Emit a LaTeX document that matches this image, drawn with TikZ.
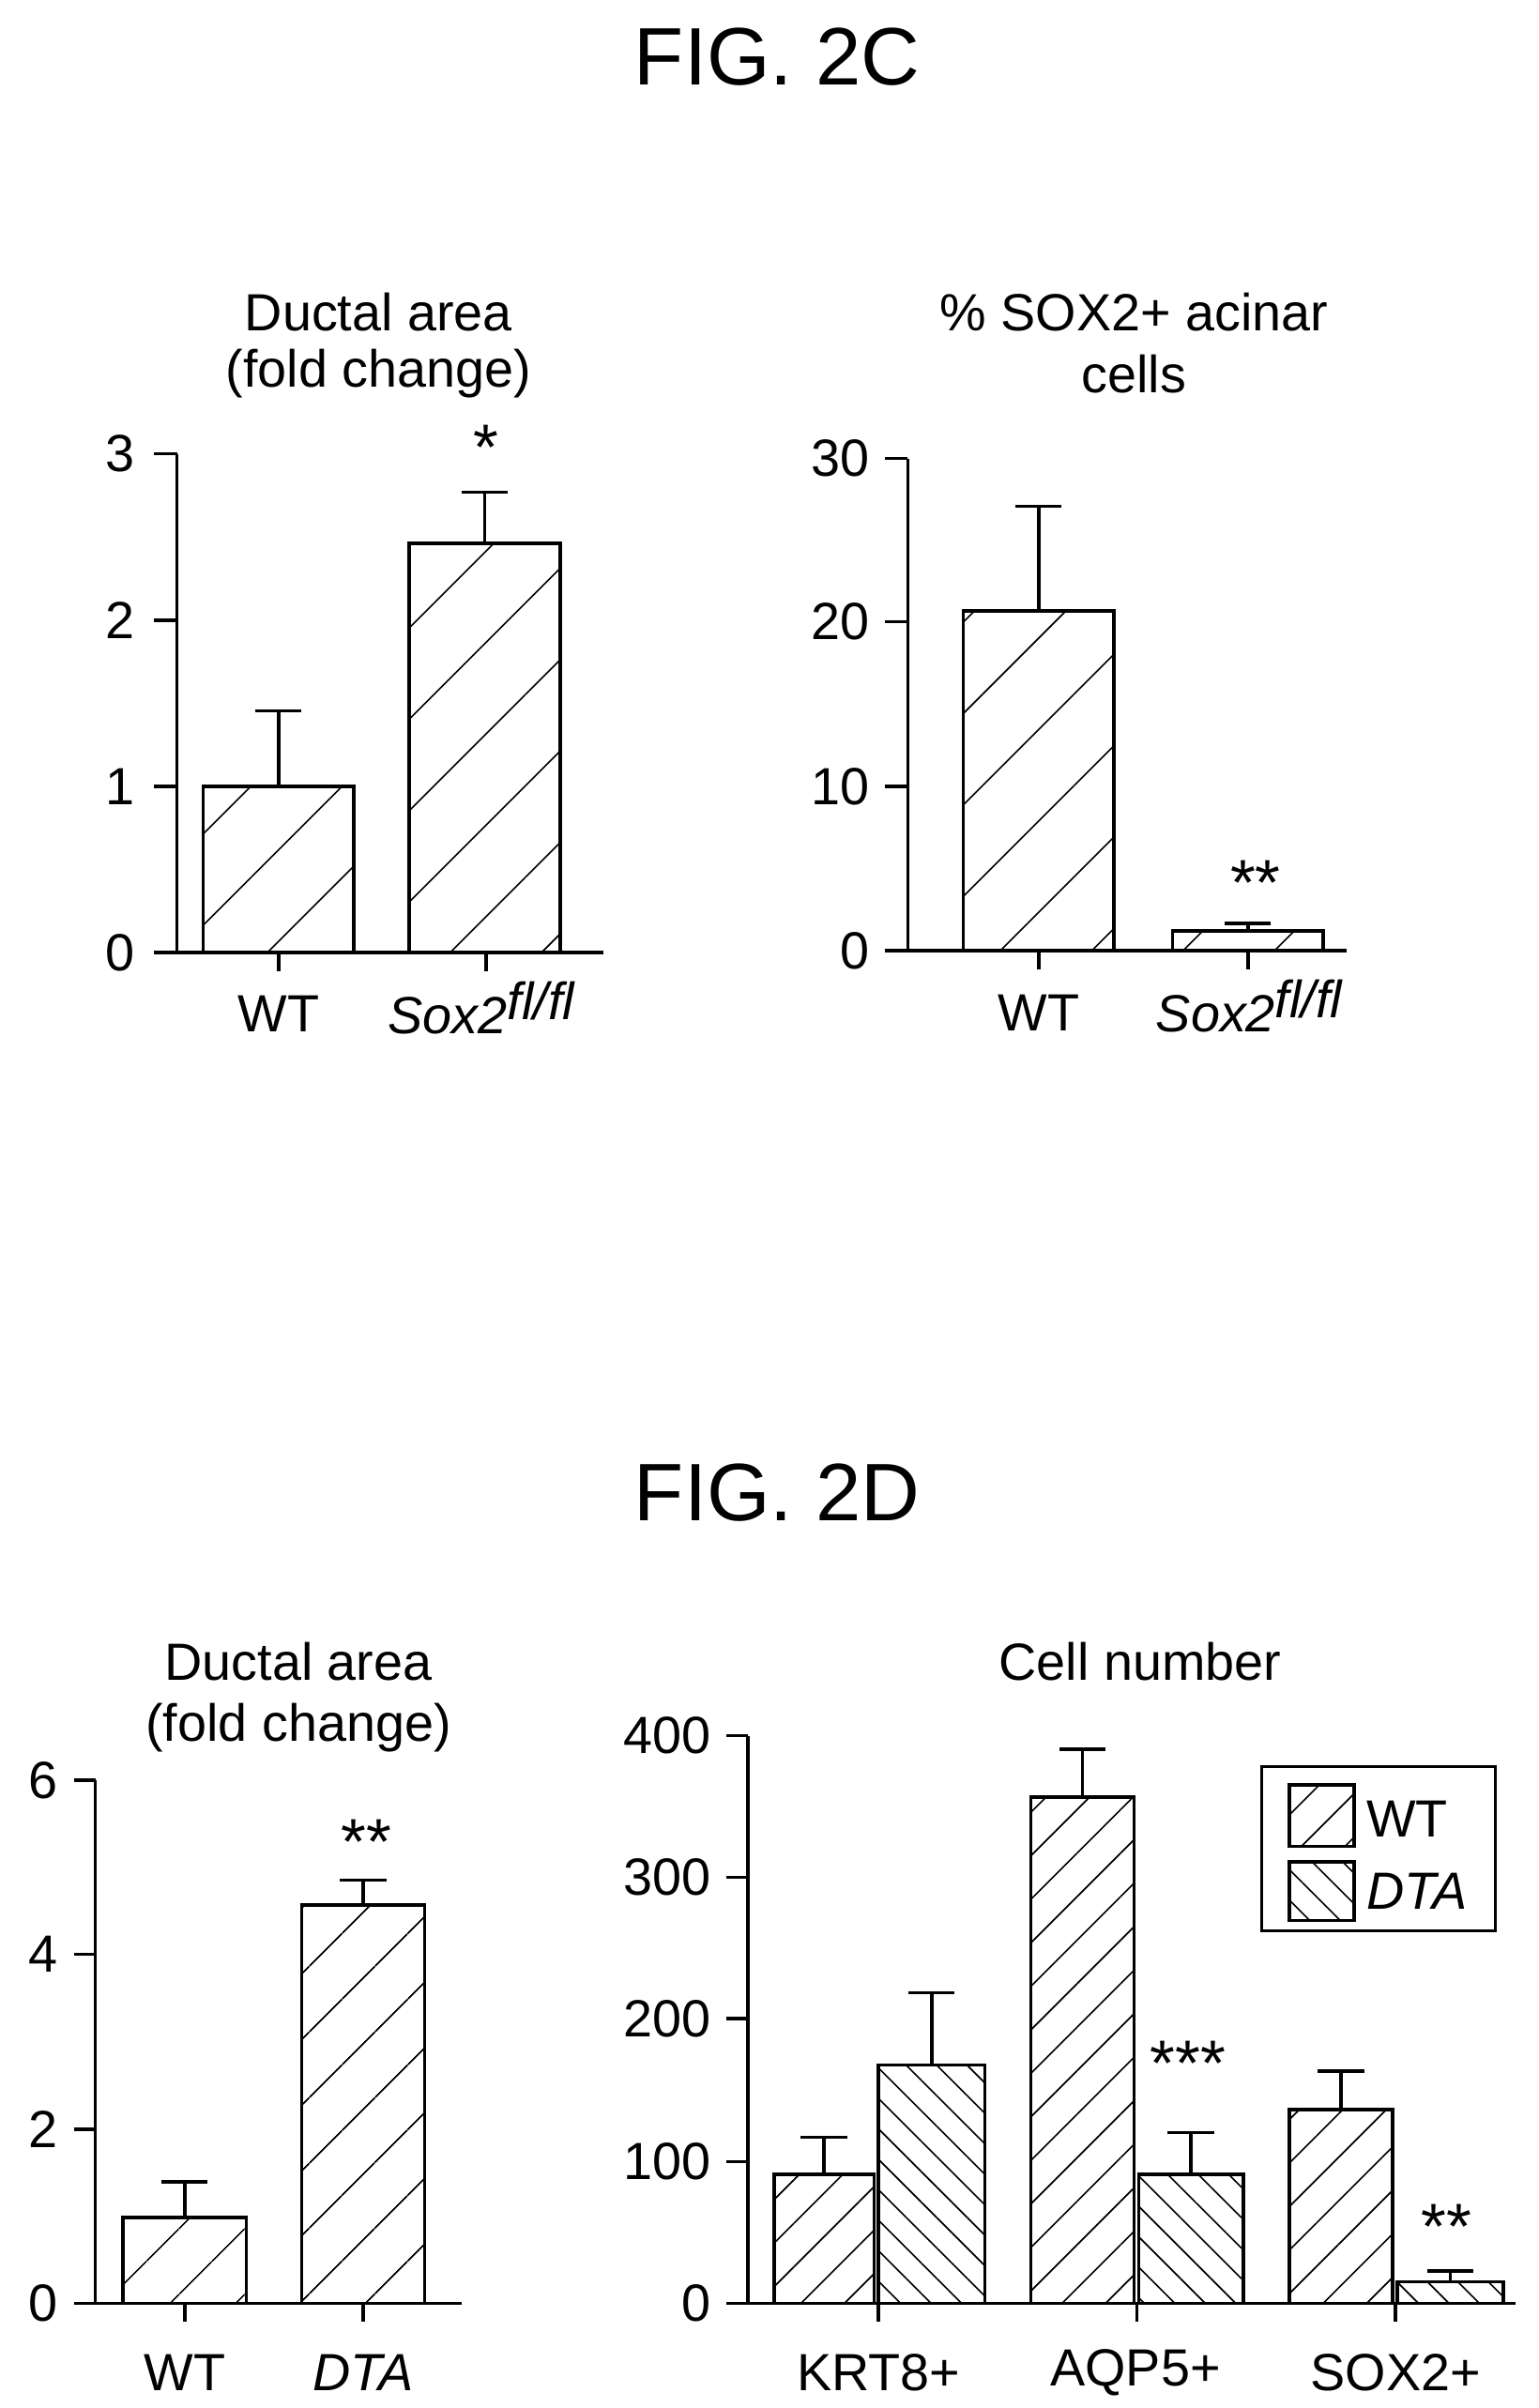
\documentclass[tikz,border=0pt]{standalone}
\usepackage{fontspec}
\setmainfont{Liberation Sans}
\usetikzlibrary{patterns.meta}
\newcommand\mybar[6]{% x1,x2,top,err,base,distance/angle
  \draw[line width=2.2pt,pattern={Lines[angle=#6,distance=#5pt,line width=1pt]}] (#1,0) rectangle (#2,#3);
  \draw[line width=2.2pt] ({(#1+#2)/2},#3) -- ({(#1+#2)/2},#4) ({(#1+#2)/2-15},#4) -- ({(#1+#2)/2+15},#4);}
\begin{document}
\begin{tikzpicture}[x=1pt,y=-1pt,
  lab/.style={font=\fontsize{34}{40}\selectfont,inner sep=0},
  star/.style={font=\fontsize{42}{46}\selectfont,inner sep=0},
  fig/.style={font=\fontsize{53}{58}\selectfont,inner sep=0},
  ax/.style={line width=2.2pt}]
\useasboundingbox (0,0) rectangle (1000,1565);
\node[fig] (t1) at (505,37) {FIG. 2C};
\node[fig] (t2) at (505,970) {FIG. 2D};
% Panel A
\begin{scope}[shift={(0,619)}]
\node[lab] (a1) at (246,-416) {Ductal area};
\node[lab] (a2) at (246,-376) {(fold change)};
\mybar{132}{230}{-108}{-157}{42}{45}
\mybar{266}{364}{-266}{-299}{42}{45}
\draw[ax] (115,-324) -- (115,0) (100,0) -- (392,0);
\foreach \v/\y in {0/0,1/-108,2/-216,3/-324}{\draw[ax] (100,\y)--(115,\y); \node[lab,anchor=east] (a\v) at (88,\y) {\v};}
\draw[ax] (181,0)--(181,12) (316,0)--(316,12);
\node[lab] (aw) at (181,40) {WT};
\node[lab] (as) at (313,36) {\textit{Sox2}$^{\textit{fl/fl}}$};
\node[star] (ast) at (316,-328) {*};
\end{scope}
% Panel B
\begin{scope}[shift={(0,618)}]
\node[lab] (b1) at (737,-415) {\% SOX2+ acinar};
\node[lab] (b2) at (737,-375) {cells};
\mybar{626}{724}{-221}{-289}{42}{45}
\mybar{762}{860}{-13}{-18}{42}{45}
\draw[ax] (590,-320) -- (590,0) (575,0) -- (875,0);
\foreach \v/\y in {0/0,10/-107,20/-214,30/-320}{\draw[ax] (575,\y)--(590,\y); \node[lab,anchor=east] (b\v) at (565,\y) {\v};}
\draw[ax] (675,0)--(675,12) (811,0)--(811,12);
\node[lab] (bw) at (675,40) {WT};
\node[lab] (bs) at (812,36) {\textit{Sox2}$^{\textit{fl/fl}}$};
\node[star] (bst) at (816,-44) {**};
\end{scope}
% Panel C
\begin{scope}[shift={(0,1497)}]
\node[lab] (c1) at (194,-417) {Ductal area};
\node[lab] (c2) at (194,-374) {(fold change)};
\mybar{80}{160}{-56}{-79}{30}{45}
\mybar{196}{276}{-259}{-275}{30}{45}
\draw[ax] (62,-340) -- (62,0) (48,0) -- (300,0);
\foreach \v/\y in {0/0,2/-113,4/-227,6/-340}{\draw[ax] (48,\y)--(62,\y); \node[lab,anchor=east] (c\v) at (38,\y) {\v};}
\draw[ax] (120,0)--(120,12) (236,0)--(236,12);
\node[lab] (cw) at (120,45) {WT};
\node[lab] (cd) at (236,45) {\textit{DTA}};
\node[star] (cst) at (238,-300) {**};
\end{scope}
% Panel D
\begin{scope}[shift={(0,1497)}]
\node[lab] (d1) at (741,-417) {Cell number};
\mybar{503}{568}{-84}{-108}{20}{45}
\mybar{571}{640}{-155}{-202}{14}{-45}
\mybar{670}{737}{-329}{-360}{20}{45}
\mybar{740}{808}{-84}{-111}{14}{-45}
\mybar{838}{905}{-126}{-151}{20}{45}
\mybar{908}{977}{-14}{-21}{14}{-45}
\draw[ax] (486,-369) -- (486,0) (472,0) -- (985,0);
\foreach \v/\y in {0/0,100/-92,200/-185,300/-277,400/-369}{\draw[ax] (472,\y)--(486,\y); \node[lab,anchor=east] (d\v) at (462,\y) {\v};}
\draw[ax] (571,0)--(571,12) (739,0)--(739,12) (907,0)--(907,12);
\node[lab] (dk) at (571,45) {KRT8+};
\node[lab] (da) at (738,45) {AQP5+};
\node[lab] (ds) at (907,45) {SOX2+};
\node[star] (ds3) at (772,-156) {***};
\node[star] (ds2) at (940,-50) {**};
\draw[line width=2pt] (820,-349) rectangle (972,-242);
\draw[line width=2pt,pattern={Lines[angle=45,distance=20pt,line width=1pt]}] (838,-337) rectangle (880,-297);
\draw[line width=2pt,pattern={Lines[angle=-45,distance=14pt,line width=1pt]}] (838,-287) rectangle (880,-249);
\node[lab,anchor=west] (lw) at (888,-315) {WT};
\node[lab,anchor=west] (ld) at (888,-268) {\textit{DTA}};
\end{scope}
\end{tikzpicture}
\end{document}
